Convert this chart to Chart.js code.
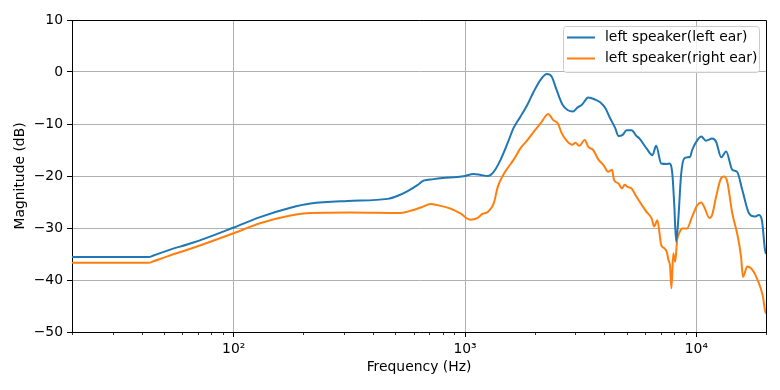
<!DOCTYPE html>
<html>
<head>
<meta charset="utf-8">
<script src="https://cdn.jsdelivr.net/npm/chart.js@4.4.1/dist/chart.umd.min.js"></script>
<style>
    html, body { margin: 0; padding: 0; background: #fff; }
</style>
</head>
<body>
<canvas id="freqChart" width="780" height="390"></canvas>
<script>
// left speaker measured at the left ear
const leftEarFreq = [20, 43, 45, 52, 67, 100, 130, 176, 215, 311, 463, 512, 565, 620, 661, 730, 800, 927, 1000, 1087, 1170, 1253, 1330, 1424, 1527, 1620, 1735, 1860, 1980, 2120, 2260, 2370, 2490, 2640, 2775, 2930, 3070, 3200, 3410, 3650, 3860, 4050, 4240, 4460, 4600, 4800, 4990, 5250, 5510, 5680, 6090, 6460, 6700, 7050, 7450, 7640, 7870, 8020, 8180, 8350, 8590, 8870, 9400, 9590, 10100, 10500, 11000, 11700, 12170, 12800, 13450, 14300, 15000, 15800, 16900, 17900, 18600, 19200, 19800, 20000];
const leftEarDb = [-35.6, -35.6, -35.3, -34.3, -32.8, -29.9, -27.9, -26.1, -25.3, -24.8, -24.4, -23.8, -22.9, -21.8, -20.9, -20.6, -20.4, -20.2, -20.0, -19.6, -19.8, -20.0, -19.2, -16.9, -13.7, -10.8, -8.6, -6.3, -3.8, -1.5, -0.4, -0.9, -3.5, -6.3, -7.3, -7.6, -6.8, -6.3, -4.9, -5.3, -5.9, -7.0, -8.9, -10.8, -12.3, -12.1, -11.2, -11.2, -12.3, -12.8, -14.7, -16.0, -14.2, -17.6, -17.7, -17.6, -19.5, -25.3, -32.6, -28.5, -19.8, -16.6, -16.3, -15.0, -13.1, -12.4, -13.2, -12.8, -13.4, -16.4, -15.3, -18.8, -19.2, -22.7, -27.2, -27.8, -27.5, -28.5, -34.2, -35.0];

// left speaker measured at the right ear
const rightEarFreq = [20, 43, 45, 52, 67, 100, 130, 176, 215, 320, 527, 582, 650, 709, 759, 868, 955, 1056, 1130, 1189, 1253, 1330, 1385, 1450, 1527, 1620, 1735, 1860, 1980, 2120, 2290, 2400, 2520, 2620, 2770, 2910, 3000, 3120, 3290, 3410, 3580, 3780, 3970, 4160, 4320, 4410, 4600, 4770, 4900, 5040, 5250, 5510, 5680, 6090, 6400, 6570, 6780, 7050, 7270, 7450, 7580, 7700, 7800, 7950, 8100, 8260, 8430, 8700, 9100, 9590, 10100, 10500, 10800, 11400, 11700, 12170, 12800, 13200, 13600, 14300, 15000, 15600, 15900, 16600, 17500, 18400, 19400, 19800, 20000];
const rightEarDb = [-36.7, -36.7, -36.4, -35.4, -33.8, -31.0, -29.1, -27.6, -27.1, -27.0, -27.1, -26.7, -26.0, -25.4, -25.6, -26.3, -27.2, -28.4, -28.1, -27.3, -26.9, -25.3, -22.1, -20.1, -18.5, -16.9, -14.7, -13.1, -11.5, -9.9, -8.1, -9.2, -9.9, -11.8, -13.4, -14.0, -13.6, -14.2, -13.1, -14.4, -15.0, -16.9, -17.9, -19.2, -18.8, -20.8, -21.4, -22.4, -21.7, -22.1, -22.4, -24.0, -24.9, -26.9, -28.1, -29.7, -28.5, -33.3, -33.9, -34.6, -36.2, -37.4, -41.6, -34.9, -36.5, -32.3, -31.0, -30.1, -30.1, -27.8, -25.6, -25.1, -25.9, -28.1, -27.5, -24.0, -20.4, -20.1, -21.1, -27.2, -31.0, -35.5, -39.4, -37.4, -38.1, -40.0, -43.2, -45.8, -46.5];

const seriesNames = ["left speaker(left ear)", "left speaker(right ear)"];

// ticks
const xMajorTicks = [100, 1000, 10000];
const xTickLabels = ["10\u00B2", "10\u00B3", "10\u2074"];
const xMinorTicks = [20, 30, 40, 50, 60, 70, 80, 90, 200, 300, 400, 500, 600, 700, 800, 900, 2000, 3000, 4000, 5000, 6000, 7000, 8000, 9000, 20000];
const yTicks = [-50, -40, -30, -20, -10, 0, 10];
const yTickLabels = ["\u221250", "\u221240", "\u221230", "\u221220", "\u221210", "0", "10"];

const FONT = "'DejaVu Sans', sans-serif";
const FS = 13.9;

function toPoints(xs, ys) {
    return xs.map((x, i) => ({ x: x, y: ys[i] }));
}

// spines, minor ticks and the legend box inside the axes
const framePlugin = {
    id: "frame",
    afterDraw(chart) {
        const { ctx, chartArea: a } = chart;
        const xs = chart.scales.x;
        ctx.save();
        ctx.strokeStyle = "#000";
        ctx.lineWidth = 1;
        ctx.beginPath();
        ctx.moveTo(a.left, a.top + 0.5);
        ctx.lineTo(a.right + 0.5, a.top + 0.5);
        ctx.lineTo(a.right + 0.5, a.bottom);
        ctx.stroke();

        // minor ticks
        ctx.lineWidth = 0.8;
        xMinorTicks.forEach((v) => {
            const px = Math.round(xs.getPixelForValue(v)) + 0.5;
            ctx.beginPath();
            ctx.moveTo(px, a.bottom);
            ctx.lineTo(px, a.bottom + 3);
            ctx.stroke();
        });

        // legend
        const bw = 196, bh = 46;
        const bx = a.right - 7 - bw, by = a.top + 6;
        ctx.beginPath();
        ctx.roundRect(bx + 0.5, by + 0.5, bw, bh, 3);
        ctx.fillStyle = "rgba(255,255,255,0.8)";
        ctx.fill();
        ctx.strokeStyle = "#cccccc";
        ctx.lineWidth = 1;
        ctx.stroke();

        ctx.font = FS + "px " + FONT;
        ctx.textBaseline = "middle";
        ctx.textAlign = "left";
        chart.data.datasets.forEach((ds, i) => {
            const ry = by + 11.5 + i * 21;
            ctx.strokeStyle = ds.borderColor;
            ctx.lineWidth = 2;
            ctx.beginPath();
            ctx.moveTo(bx + 4, ry);
            ctx.lineTo(bx + 32, ry);
            ctx.stroke();
            ctx.fillStyle = "#000";
            ctx.fillText(ds.label, bx + 42, ry);
        });
        ctx.restore();
    }
};

const ctx = document.getElementById("freqChart").getContext("2d");
const freqChart = new Chart(ctx, {
    type: "line",
    data: {
        datasets: [
            {
                label: seriesNames[0],
                data: toPoints(leftEarFreq, leftEarDb),
                borderColor: "#1f77b4",
                borderWidth: 2,
                pointRadius: 0,
                cubicInterpolationMode: "monotone",
            },
            {
                label: seriesNames[1],
                data: toPoints(rightEarFreq, rightEarDb),
                borderColor: "#ff7f0e",
                borderWidth: 2,
                pointRadius: 0,
                cubicInterpolationMode: "monotone",
            },
        ],
    },
    options: {
        responsive: false,
        animation: false,
        layout: { padding: { top: 20, right: 14, left: 0, bottom: 0 } },
        plugins: {
            legend: { display: false },
            tooltip: { enabled: false },
        },
        scales: {
            x: {
                type: "logarithmic",
                min: 20,
                max: 20000,
                afterBuildTicks: (scale) => {
                    scale.ticks = xMajorTicks.map((v) => ({ value: v, major: true }));
                },
                afterFit: (scale) => { scale.height = 58; },
                grid: {
                    color: "#b0b0b0",
                    lineWidth: 1,
                    tickLength: 5,
                    tickColor: "#000",
                },
                border: { color: "#000", width: 1 },
                ticks: {
                    autoSkip: false,
                    maxRotation: 0,
                    padding: 4,
                    color: "#000",
                    font: { family: FONT, size: FS },
                    callback: (v) => {
                        const i = xMajorTicks.indexOf(v);
                        return i >= 0 ? xTickLabels[i] : "";
                    },
                },
                title: {
                    display: true,
                    text: "Frequency (Hz)",
                    color: "#000",
                    font: { family: FONT, size: FS },
                    padding: { top: 0, bottom: 14 },
                },
            },
            y: {
                min: -50,
                max: 10,
                afterBuildTicks: (scale) => {
                    scale.ticks = yTicks.map((v) => ({ value: v }));
                },
                afterFit: (scale) => { scale.width = 72; },
                grid: {
                    color: "#b0b0b0",
                    lineWidth: 1,
                    tickLength: 5,
                    tickColor: "#000",
                },
                border: { color: "#000", width: 1 },
                ticks: {
                    padding: 4,
                    color: "#000",
                    font: { family: FONT, size: FS },
                    callback: (v) => yTickLabels[yTicks.indexOf(v)],
                },
                title: {
                    display: true,
                    text: "Magnitude (dB)",
                    color: "#000",
                    font: { family: FONT, size: FS },
                    padding: { top: 12, bottom: 0 },
                },
            },
        },
    },
    plugins: [framePlugin],
});
</script>
</body>
</html>
